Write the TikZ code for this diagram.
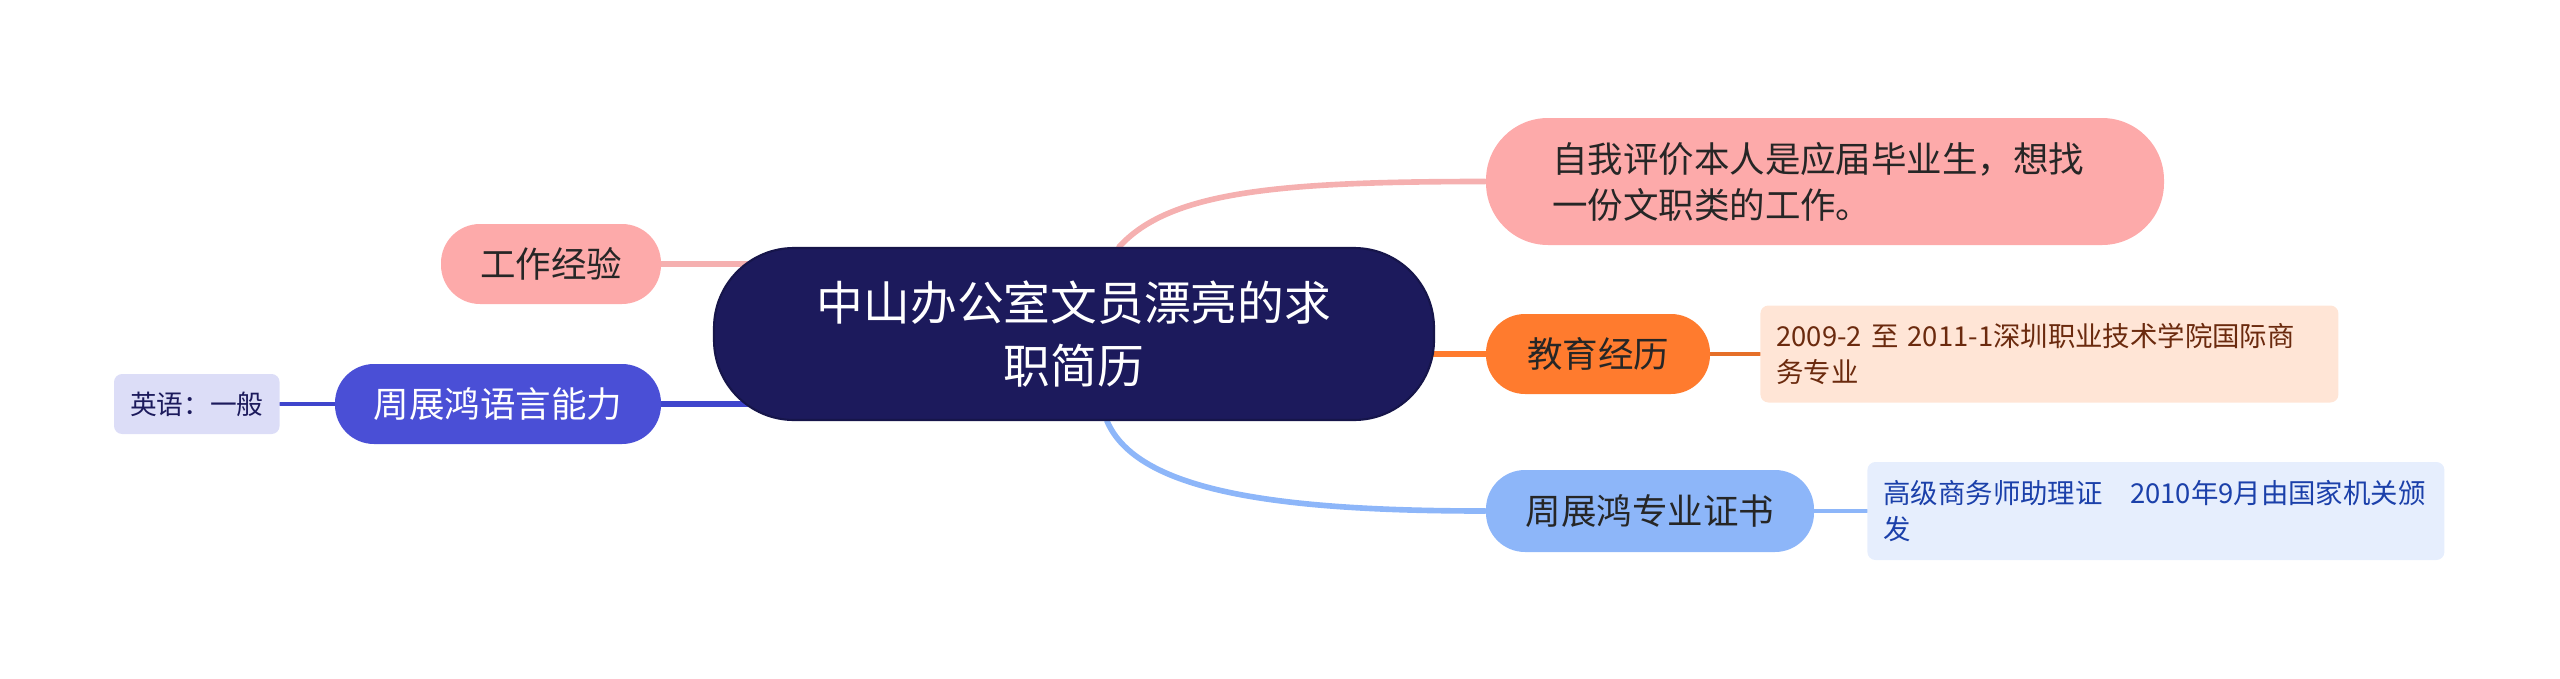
\documentclass[tikz,border=0pt]{standalone}
\usepackage{fontspec}
\setmainfont{Noto Sans CJK SC}
\usetikzlibrary{positioning, calc, backgrounds}
\definecolor{cTopic}{HTML}{1C1A5C}
\definecolor{cPink}{HTML}{FDAAAA}
\definecolor{cPinkLine}{HTML}{F5B0B0}
\definecolor{cOrange}{HTML}{FF7B2E}
\definecolor{cPeach}{HTML}{FFE5D6}
\definecolor{cPeachText}{HTML}{6B2A0E}
\definecolor{cSky}{HTML}{8DB6F9}
\definecolor{cSkyLeaf}{HTML}{E6EEFD}
\definecolor{cSkyText}{HTML}{1B40AA}
\definecolor{cViolet}{HTML}{4A4FD6}
\definecolor{cVioletLine}{HTML}{3F45CC}
\definecolor{cLilac}{HTML}{DCDDF7}
\tikzset{
  topicnode/.style={fill=cTopic, draw=cTopic!80!black, line width=0.6pt, text=white,
    rounded corners=0.8cm, minimum width=7.2cm, minimum height=1.72cm,
    text width=5.4cm, align=center, inner sep=0pt,
    font=\fontsize{13.3}{18.2}\selectfont},
  branchnode/.style={rounded corners=0.39cm, minimum height=0.8cm, inner sep=0pt,
    text=black!85, font=\fontsize{10.1}{13.1}\selectfont},
  leafnode/.style={rounded corners=0.08cm, align=left, inner xsep=0.16cm, inner ysep=0pt,
    font=\fontsize{7.8}{10.4}\selectfont},
  link/.style={line width=1.6pt, line cap=round},
}

\begin{document}
\begin{tikzpicture}
  \useasboundingbox (0,0) rectangle (25.6,-6.78);

  % central topic
  \node[topicnode] (topic) at (10.74,-3.34) {中山办公室文员漂亮的求\\职简历};

  % right side branches
  \node[branchnode, fill=cPink, rounded corners=0.62cm, minimum width=6.78cm,
        minimum height=1.27cm, text width=5.46cm, align=left] (selfeval)
    at (18.25,-1.815) {自我评价本人是应届毕业生，想找\\一份文职类的工作。};

  \node[branchnode, fill=cOrange, minimum width=2.24cm] (edu) at (15.98,-3.54) {教育经历};
  \node[leafnode, fill=cPeach, text=cPeachText, minimum width=5.78cm, minimum height=0.97cm,
        text width=5.46cm, right=0.49cm of edu] (eduleaf)
    {2009-2 至 2011-1深圳职业技术学院国际商\\务专业};

  \node[branchnode, fill=cSky, minimum width=3.28cm, minimum height=0.82cm] (cert)
    at (16.50,-5.11) {周展鸿专业证书};
  \node[leafnode, fill=cSkyLeaf, text=cSkyText, minimum width=5.77cm, minimum height=0.98cm,
        text width=5.45cm, right=0.52cm of cert] (certleaf)
    {高级商务师助理证\hspace{1em}2010年9月由国家机关颁\\发};

  % left side branches
  \node[branchnode, fill=cPink, minimum width=2.2cm] (work) at (5.51,-2.64) {工作经验};

  \node[branchnode, fill=cViolet, text=white, minimum width=3.26cm] (lang)
    at (4.98,-4.04) {周展鸿语言能力};
  \node[leafnode, fill=cLilac, text=cTopic, minimum width=1.63cm, minimum height=0.6cm,
        align=center, font=\fontsize{7.6}{10}\selectfont, left=0.54cm of lang] (english)
    {英语：一般};

  % connectors
  \begin{scope}[on background layer]
    \draw[link, cPinkLine] ($(topic.north)+(0.45,0)$)
      .. controls +(0.5,0.55) and +(-2.1,0) .. (selfeval.west);
    \draw[link, cOrange] (topic.center |- edu.west) -- (edu.west);
    \draw[link, cOrange!90!black, line width=1.3pt] (edu.east) -- (eduleaf.west);
    \draw[link, cSky] ($(topic.south)+(0.33,0)$)
      .. controls +(0.3,-0.7) and +(-2.1,0) .. (cert.west);
    \draw[link, cSky, line width=1.3pt] (cert.east) -- (certleaf.west);
    \draw[link, cPinkLine] (work.east) -- (topic.center |- work.east);
    \draw[link, cVioletLine] (lang.east) -- (topic.center |- lang.east);
    \draw[link, cVioletLine, line width=1.3pt] (english.east) -- (lang.west);
  \end{scope}
\end{tikzpicture}
\end{document}
